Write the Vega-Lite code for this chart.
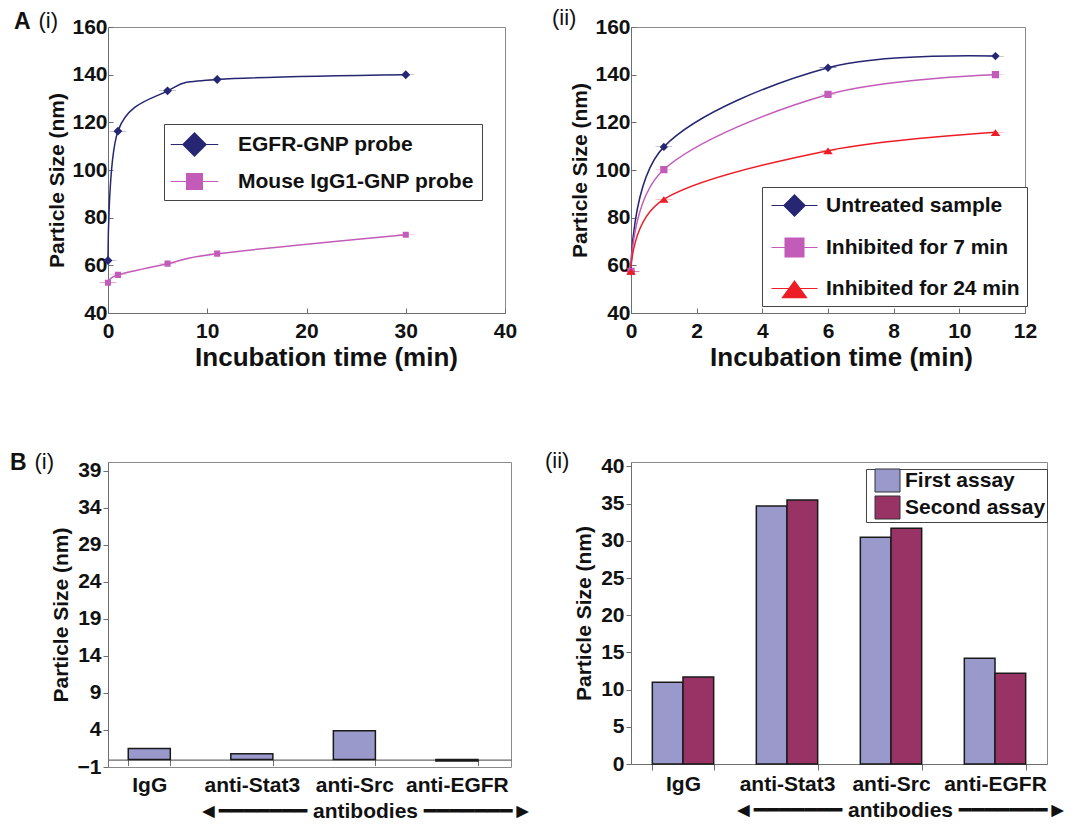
{
  "$schema": "https://vega.github.io/schema/vega-lite/v6.json",
  "autosize": {"type": "none"},
  "padding": {"left": 108, "top": 27, "right": 966, "bottom": 797},
  "background": "white",
  "columns": 2,
  "bounds": "flush",
  "spacing": {"row": 149, "column": 120},
  "resolve": {
    "scale": {"color": "independent", "shape": "independent", "x": "independent", "y": "independent"},
    "legend": {"color": "independent", "shape": "independent"}
  },
  "config": {
    "font": "Liberation Sans",
    "view": {"stroke": "#8a8a8a", "strokeWidth": 1},
    "axis": {
      "labelFont": "Liberation Sans", "labelFontSize": 21, "labelFontWeight": "bold", "labelColor": "#111111",
      "titleFont": "Liberation Sans, DejaVu Sans", "titleFontWeight": "bold", "titleFontSize": 21, "titleColor": "#111111",
      "grid": false, "domainColor": "#6e6e6e", "tickColor": "#6e6e6e", "labelOverlap": false, "labelFlush": false
    },
    "legend": {
      "labelFont": "Liberation Sans", "labelFontSize": 21, "labelFontWeight": "bold", "labelColor": "#111111",
      "labelLimit": 400, "strokeColor": "#444444", "fillColor": "white", "cornerRadius": 0
    }
  },
  "concat": [
    {
      "width": 397,
      "height": 286,
      "title": {
        "text": "A", "subtitle": "\u200b\u00a0\u00a0\u00a0\u00a0(i)", "anchor": "start", "frame": "group", "dx": -94, "offset": -19,
        "font": "Liberation Sans", "fontSize": 23, "fontWeight": "bold", "color": "#111111",
        "subtitleFont": "Liberation Sans", "subtitleFontSize": 22, "subtitleFontWeight": "normal", "subtitleColor": "#111111", "subtitlePadding": -23
      },
      "data": {"values": [
        {"t": 0, "size": 62, "series": "EGFR-GNP probe"},
        {"t": 1, "size": 116.3, "series": "EGFR-GNP probe"},
        {"t": 6, "size": 133.2, "series": "EGFR-GNP probe"},
        {"t": 11, "size": 138, "series": "EGFR-GNP probe"},
        {"t": 30, "size": 140, "series": "EGFR-GNP probe"},
        {"t": 0, "size": 52.7, "series": "Mouse IgG1-GNP probe"},
        {"t": 1, "size": 56, "series": "Mouse IgG1-GNP probe"},
        {"t": 6, "size": 60.7, "series": "Mouse IgG1-GNP probe"},
        {"t": 11, "size": 64.9, "series": "Mouse IgG1-GNP probe"},
        {"t": 30, "size": 72.8, "series": "Mouse IgG1-GNP probe"}
      ]},
      "layer": [
        {
          "mark": {"type": "line", "interpolate": "cardinal", "strokeWidth": 1.5},
          "encoding": {
            "x": {"field": "t", "type": "quantitative", "scale": {"domain": [0, 40], "nice": false},
                  "axis": {"title": "Incubation time (min)", "titleFontSize": 26, "values": [0, 10, 20, 30, 40], "tickSize": -5, "labelPadding": 12, "titlePadding": 3, "titleX": 218}},
            "y": {"field": "size", "type": "quantitative", "scale": {"domain": [40, 160], "nice": false, "zero": false},
                  "axis": {"title": "Particle Size (nm)", "values": [40, 60, 80, 100, 120, 140, 160], "tickSize": -5, "labelPadding": 6, "titlePadding": 4, "titleY": 153}},
            "color": {"field": "series", "type": "nominal",
                      "scale": {"domain": ["EGFR-GNP probe", "Mouse IgG1-GNP probe"], "range": ["#262673", "#C35BB9"]},
                      "legend": {
                        "title": null, "orient": "none", "legendX": 56, "legendY": 97, "padding": 8, "rowPadding": 12,
                        "symbolSize": 625, "symbolOffset": 10, "labelOffset": 31, "symbolStrokeWidth": 0, "symbolOpacity": 1
                      }}
          }
        },
        {
          "mark": {"type": "point", "filled": true, "opacity": 1, "size": 80, "strokeWidth": 0},
          "encoding": {
            "x": {"field": "t", "type": "quantitative"},
            "y": {"field": "size", "type": "quantitative"},
            "color": {"field": "series", "type": "nominal"},
            "shape": {"field": "series", "type": "nominal",
                      "scale": {"domain": ["EGFR-GNP probe", "Mouse IgG1-GNP probe"],
                                "range": ["M-1.9,-0.035H1.9V0.035H-1.9ZM0,-1L1,0L0,1L-1,0Z", "M-1.9,-0.035H1.9V0.035H-1.9ZM-0.68,-0.68H0.68V0.68H-0.68Z"]},
                      "legend": null}
          }
        }
      ]
    },
    {
      "width": 394,
      "height": 286,
      "title": {
        "text": "(ii)", "anchor": "start", "frame": "group", "dx": -79, "offset": -14,
        "font": "Liberation Sans", "fontSize": 22, "fontWeight": "normal", "color": "#111111"
      },
      "data": {"values": [
        {"t": 0, "size": 57.5, "series": "Untreated sample"},
        {"t": 1, "size": 109.7, "series": "Untreated sample"},
        {"t": 6, "size": 142.9, "series": "Untreated sample"},
        {"t": 11.1, "size": 147.8, "series": "Untreated sample"},
        {"t": 0, "size": 57.5, "series": "Inhibited for 7 min"},
        {"t": 1, "size": 100.2, "series": "Inhibited for 7 min"},
        {"t": 6, "size": 131.7, "series": "Inhibited for 7 min"},
        {"t": 11.1, "size": 140, "series": "Inhibited for 7 min"},
        {"t": 0, "size": 57.5, "series": "Inhibited for 24 min"},
        {"t": 1, "size": 87.7, "series": "Inhibited for 24 min"},
        {"t": 6, "size": 108.1, "series": "Inhibited for 24 min"},
        {"t": 11.1, "size": 115.8, "series": "Inhibited for 24 min"}
      ]},
      "layer": [
        {
          "mark": {"type": "line", "interpolate": "cardinal", "strokeWidth": 1.5},
          "encoding": {
            "x": {"field": "t", "type": "quantitative", "scale": {"domain": [0, 12], "nice": false},
                  "axis": {"title": "Incubation time (min)", "titleFontSize": 26, "values": [0, 2, 4, 6, 8, 10, 12], "tickSize": -5, "labelPadding": 12, "titlePadding": 3, "titleX": 210}},
            "y": {"field": "size", "type": "quantitative", "scale": {"domain": [40, 160], "nice": false, "zero": false},
                  "axis": {"title": "Particle Size (nm)", "values": [40, 60, 80, 100, 120, 140, 160], "tickSize": -5, "labelPadding": 6, "titlePadding": 4}},
            "color": {"field": "series", "type": "nominal",
                      "scale": {"domain": ["Untreated sample", "Inhibited for 7 min", "Inhibited for 24 min"], "range": ["#262673", "#C35BB9", "#EE1C25"]},
                      "legend": {
                        "title": null, "orient": "none", "legendX": 131, "legendY": 160, "padding": 7, "rowPadding": 19,
                        "symbolSize": 529, "symbolOffset": 14, "labelOffset": 20, "symbolStrokeWidth": 0, "symbolOpacity": 1
                      }}
          }
        },
        {
          "mark": {"type": "point", "filled": true, "opacity": 1, "size": 70, "strokeWidth": 0},
          "encoding": {
            "x": {"field": "t", "type": "quantitative"},
            "y": {"field": "size", "type": "quantitative"},
            "color": {"field": "series", "type": "nominal"},
            "shape": {"field": "series", "type": "nominal",
                      "scale": {"domain": ["Untreated sample", "Inhibited for 7 min", "Inhibited for 24 min"],
                                "range": ["M-2,-0.035H2V0.035H-2ZM0,-1L1,0L0,1L-1,0Z", "M-2,-0.035H2V0.035H-2ZM-0.87,-0.87H0.87V0.87H-0.87Z", "M-2,-0.035H2V0.035H-2ZM0,-0.75L1.15,0.85L-1.15,0.85Z"]},
                      "legend": null}
          }
        }
      ]
    },
    {
      "width": 403,
      "height": 305,
      "title": {
        "text": "B", "subtitle": "\u200b\u00a0\u00a0\u00a0\u00a0(i)", "anchor": "start", "frame": "group", "dx": -98, "offset": -16,
        "font": "Liberation Sans", "fontSize": 23, "fontWeight": "bold", "color": "#111111",
        "subtitleFont": "Liberation Sans", "subtitleFontSize": 22, "subtitleFontWeight": "normal", "subtitleColor": "#111111", "subtitlePadding": -23
      },
      "data": {"values": [
        {"antibody": "IgG", "size": 1.5},
        {"antibody": "anti-Stat3", "size": 0.8},
        {"antibody": "anti-Src", "size": 3.9},
        {"antibody": "anti-EGFR", "size": -0.2}
      ]},
      "mark": {"type": "bar", "color": "#9999CC", "stroke": "#1a1a1a", "strokeWidth": 1.5},
      "encoding": {
        "x": {"field": "antibody", "type": "nominal", "sort": null,
              "scale": {"paddingInner": 0.59, "paddingOuter": 0.26, "align": 0.38},
              "axis": {"title": "◄━━━━━━━ antibodies ━━━━━━━►", "labelAngle": 0, "offset": -7.4, "domainColor": "#444444", "tickBand": "extent", "tickSize": 6, "labelPadding": 9, "titlePadding": 5, "titleX": 257}},
        "y": {"field": "size", "type": "quantitative", "scale": {"domain": [-1, 40.2], "nice": false, "zero": false},
              "axis": {"title": "Particle Size (nm)", "values": [-1, 4, 9, 14, 19, 24, 29, 34, 39], "tickSize": 5, "labelPadding": 2, "titlePadding": 6}}
      }
    },
    {
      "width": 416,
      "height": 302,
      "title": {
        "text": "(ii)", "anchor": "start", "frame": "group", "dx": -86, "offset": -18,
        "font": "Liberation Sans", "fontSize": 22, "fontWeight": "normal", "color": "#111111"
      },
      "data": {"values": [
        {"antibody": "IgG", "assay": "First assay", "size": 11.0},
        {"antibody": "IgG", "assay": "Second assay", "size": 11.7},
        {"antibody": "anti-Stat3", "assay": "First assay", "size": 34.7},
        {"antibody": "anti-Stat3", "assay": "Second assay", "size": 35.5},
        {"antibody": "anti-Src", "assay": "First assay", "size": 30.5},
        {"antibody": "anti-Src", "assay": "Second assay", "size": 31.7},
        {"antibody": "anti-EGFR", "assay": "First assay", "size": 14.2},
        {"antibody": "anti-EGFR", "assay": "Second assay", "size": 12.2}
      ]},
      "mark": {"type": "bar", "stroke": "#1a1a1a", "strokeWidth": 1.5},
      "encoding": {
        "x": {"field": "antibody", "type": "nominal", "sort": null,
              "scale": {"paddingInner": 0.41, "paddingOuter": 0.205},
              "axis": {"title": "◄━━━━━━━ antibodies ━━━━━━━►", "labelAngle": 0, "tickBand": "extent", "tickSize": 6, "labelPadding": 3, "titlePadding": 5, "titleX": 269}},
        "xOffset": {"field": "assay", "type": "nominal", "sort": null},
        "y": {"field": "size", "type": "quantitative", "scale": {"domain": [0, 40.6], "nice": false},
              "axis": {"title": "Particle Size (nm)", "values": [0, 5, 10, 15, 20, 25, 30, 35, 40], "tickSize": 5, "labelPadding": 2, "titlePadding": 6}},
        "color": {"field": "assay", "type": "nominal",
                  "scale": {"domain": ["First assay", "Second assay"], "range": ["#9999CC", "#993366"]},
                  "legend": {
                    "title": null, "orient": "none", "legendX": 235, "legendY": 7, "padding": 1, "rowPadding": 0,
                    "symbolSize": 400, "symbolType": "M-1.25,-1.15H1.25V1.15H-1.25Z", "symbolOffset": 10, "labelOffset": 7,
                    "symbolStrokeColor": "#333333", "symbolStrokeWidth": 1
                  }}
      }
    }
  ]
}
